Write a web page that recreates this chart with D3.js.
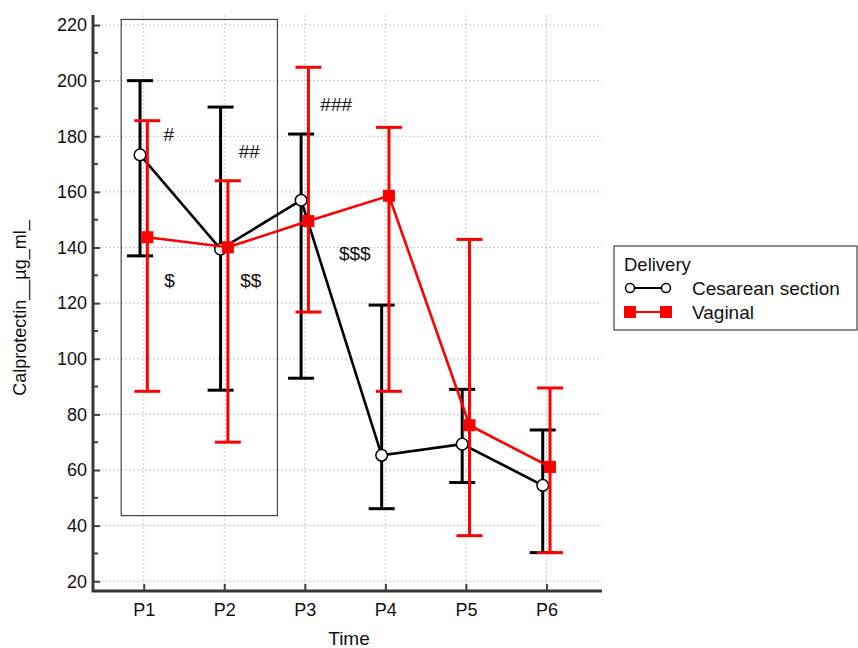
<!DOCTYPE html>
<html><head><meta charset="utf-8">
<script src="https://cdn.jsdelivr.net/npm/d3@7/dist/d3.min.js"></script>
<style>body{margin:0;background:#fff;} text{font-family:"Liberation Sans",Arial,sans-serif;}</style>
</head><body>
<script>
const categories = ["P1","P2","P3","P4","P5","P6"];
const cesareanMean = [173.3,139.4,157.0,65.3,69.3,54.5];
const cesareanHigh = [200.0,190.5,180.8,119.3,89.0,74.4];
const cesareanLow  = [137.0,88.7,93.0,46.1,55.5,30.3];
const vaginalMean = [143.7,140.1,149.5,158.6,76.1,61.1];
const vaginalHigh = [185.6,164.0,204.8,183.2,142.9,89.5];
const vaginalLow  = [88.3,70.0,116.8,88.3,36.4,30.3];
const yTicks = [20,40,60,80,100,120,140,160,180,200,220];
const yMinor = [30,50,70,90,110,130,150,170,190,210];
const annotations = [
  {text:"#", cat:0, dx:0.31, y:180.8},
  {text:"##", cat:1, dx:0.31, y:174.4},
  {text:"###", cat:2, dx:0.39, y:191.6},
  {text:"$", cat:0, dx:0.32, y:128.3},
  {text:"$$", cat:1, dx:0.33, y:128.3},
  {text:"$$$", cat:2, dx:0.62, y:137.9}
];

const W=858,H=648;
const FS=18;
const svg=d3.select("body").append("svg").attr("width",W).attr("height",H);
const x=d3.scaleLinear().domain([-0.63,5.69]).range([93,602]);
const y=d3.scaleLinear().domain([16.5,223.6]).range([591,15]);

// grid
const g=svg.append("g");
g.selectAll(".hg").data(yTicks).enter().append("line")
 .attr("x1",93).attr("x2",602).attr("y1",d=>y(d)).attr("y2",d=>y(d))
 .attr("stroke","#c8c8c8").attr("stroke-dasharray","2,2").attr("stroke-width",1);
g.selectAll(".vg").data(categories).enter().append("line")
 .attr("x1",(d,i)=>x(i)).attr("x2",(d,i)=>x(i)).attr("y1",15).attr("y2",591)
 .attr("stroke","#c8c8c8").attr("stroke-dasharray","2,2").attr("stroke-width",1);

// rectangle highlight
svg.append("rect").attr("x",x(-0.28)).attr("y",y(222)).attr("width",x(1.66)-x(-0.28)).attr("height",y(43.6)-y(222))
 .attr("fill","none").attr("stroke","#444").attr("stroke-width",1.2);

// axes
const yAxis=d3.axisLeft(y).tickValues(yTicks).tickSize(-7).tickPadding(6).tickFormat(d3.format("d"));
const ya=svg.append("g").attr("transform","translate(93,0)").call(yAxis);
ya.select(".domain").remove();
ya.selectAll(".tick line").attr("stroke","#404040").attr("stroke-width",2);
ya.selectAll("text").attr("font-size",FS).attr("fill","#111").attr("font-family","Liberation Sans, Arial, sans-serif");
svg.append("g").selectAll("line").data(yMinor).enter().append("line")
 .attr("x1",93).attr("x2",98).attr("y1",d=>y(d)).attr("y2",d=>y(d)).attr("stroke","#404040").attr("stroke-width",2);
const xAxis=d3.axisBottom(x).tickValues(d3.range(categories.length)).tickFormat(i=>categories[i]).tickSize(-7).tickPadding(12);
const xa=svg.append("g").attr("transform","translate(0,591)").call(xAxis);
xa.select(".domain").remove();
xa.selectAll(".tick line").attr("stroke","#404040").attr("stroke-width",2);
xa.selectAll("text").attr("font-size",FS).attr("fill","#111").attr("font-family","Liberation Sans, Arial, sans-serif");
svg.append("path").attr("d","M93,15V591H602").attr("fill","none").attr("stroke","#383838").attr("stroke-width",3);

svg.append("text").attr("x",349).attr("y",645).attr("text-anchor","middle").attr("font-size",FS+1).attr("fill","#111").text("Time");
svg.append("text").attr("transform","translate(26,308) rotate(-90)").attr("text-anchor","middle").attr("font-size",FS).attr("fill","#111").text("Calprotectin__µg_ml_");

// series
function drawSeries(mean,hi,lo,off,color,marker){
  const gg=svg.append("g");
  const xs=i=>x(i)+off;
  gg.selectAll(".eb").data(mean).enter().append("line")
   .attr("x1",(d,i)=>xs(i)).attr("x2",(d,i)=>xs(i)).attr("y1",(d,i)=>y(hi[i])).attr("y2",(d,i)=>y(lo[i]))
   .attr("stroke",color).attr("stroke-width",3);
  [hi,lo].forEach(arr=>{
    gg.selectAll(null).data(arr).enter().append("line")
     .attr("x1",(d,i)=>xs(i)-13).attr("x2",(d,i)=>xs(i)+13).attr("y1",d=>y(d)).attr("y2",d=>y(d))
     .attr("stroke",color).attr("stroke-width",3);
  });
  const line=d3.line().x((d,i)=>xs(i)).y(d=>y(d));
  gg.append("path").attr("d",line(mean)).attr("fill","none").attr("stroke",color).attr("stroke-width",2.6);
  if(marker==="circle"){
    gg.selectAll("circle").data(mean).enter().append("circle")
     .attr("cx",(d,i)=>xs(i)).attr("cy",d=>y(d)).attr("r",5.8).attr("fill","#fff").attr("stroke",color).attr("stroke-width",1.5);
  } else {
    gg.selectAll("rect").data(mean).enter().append("rect")
     .attr("x",(d,i)=>xs(i)-6).attr("y",d=>y(d)-6).attr("width",12).attr("height",12).attr("fill",color);
  }
}
drawSeries(cesareanMean,cesareanHigh,cesareanLow,-3.7,"#000","circle");
drawSeries(vaginalMean,vaginalHigh,vaginalLow,3.6,"#ff0000","square");

// annotations
svg.append("g").selectAll("text").data(annotations).enter().append("text")
 .attr("x",d=>x(d.cat+d.dx)).attr("y",d=>y(d.y)).attr("text-anchor","middle").attr("dominant-baseline","central")
 .attr("font-size",19).attr("fill","#111").text(d=>d.text);

// legend
const lg=svg.append("g");
lg.append("rect").attr("x",614).attr("y",246).attr("width",243).attr("height",84).attr("fill","#fff").attr("stroke","#444").attr("stroke-width",1.2);
lg.append("text").attr("x",624).attr("y",271).attr("font-size",FS+0.5).attr("fill","#111").text("Delivery");
lg.append("line").attr("x1",630).attr("x2",666).attr("y1",288).attr("y2",288).attr("stroke","#000").attr("stroke-width",2);
[630,666].forEach(cx=>lg.append("circle").attr("cx",cx).attr("cy",288).attr("r",4.5).attr("fill","#fff").attr("stroke","#000").attr("stroke-width",1.5));
lg.append("text").attr("x",692).attr("y",295).attr("font-size",FS+1).attr("fill","#111").text("Cesarean section");
lg.append("line").attr("x1",630).attr("x2",666).attr("y1",312).attr("y2",312).attr("stroke","#ff0000").attr("stroke-width",2);
[630,666].forEach(cx=>lg.append("rect").attr("x",cx-6).attr("y",306).attr("width",12).attr("height",12).attr("fill","#ff0000"));
lg.append("text").attr("x",692).attr("y",319).attr("font-size",FS+1).attr("fill","#111").text("Vaginal");
</script>
</body></html>
